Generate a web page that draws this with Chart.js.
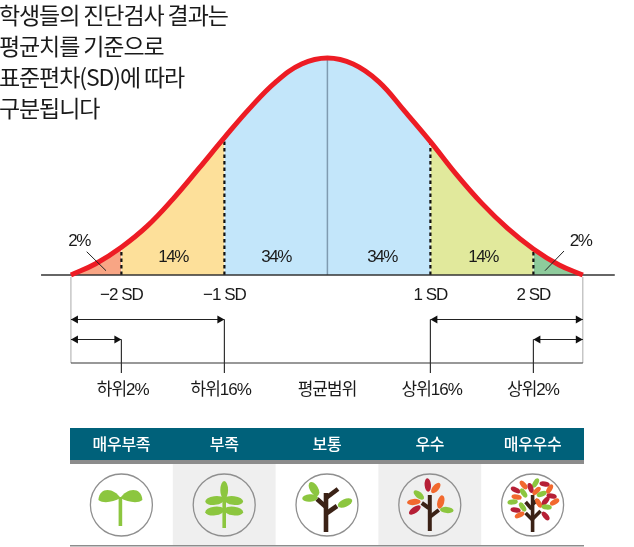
<!DOCTYPE html>
<html>
<head>
<meta charset="utf-8">
<style>
  html, body { margin: 0; padding: 0; background: #fff; }
  canvas { display: block; }
</style>
<script src="https://cdn.jsdelivr.net/npm/chart.js@4/dist/chart.umd.js"></script>
</head>
<body>
<canvas id="myChart" width="634" height="547"></canvas>
<script>
// curve: position in SD, height as % of the peak
const curveSd = [-2.49, -2.25, -2, -1.75, -1.5, -1.25, -1, -0.75, -0.5, -0.25, 0, 0.25, 0.5, 0.75, 1, 1.25, 1.5, 1.75, 2, 2.25, 2.48];
const curveHeight = [0, 5.2, 12.8, 22.5, 35, 49, 63.3, 77, 89, 97.2, 100, 97.2, 89, 75.5, 61.5, 46.5, 33, 21.5, 12, 4.6, 0];

const titleLines = ['학생들의 진단검사 결과는', '평균치를 기준으로', '표준편차(SD)에 따라', '구분됩니다'];
const tickValues = [-2, -1, 1, 2];
const tickLabels = ['−2 SD', '−1 SD', '1 SD', '2 SD'];
const bandEdges = [-2.49, -2, -1, 0, 1, 2, 2.48];
const bandColors = ['#f8a584', '#fde09a', '#c3e6fa', '#c3e6fa', '#e1e99c', '#8ecb9c'];
const bandShares = ['2%', '14%', '34%', '34%', '14%', '2%'];
const rankLabels = ['하위2%', '하위16%', '평균범위', '상위16%', '상위2%'];
const gradeLabels = ['매우부족', '부족', '보통', '우수', '매우우수'];

const KR = '"Noto Sans CJK KR", "Noto Sans", sans-serif';
const MIXED = '"Liberation Sans", "Noto Sans CJK KR", sans-serif';
const INK = '#1a1a1a';
const TEAL = '#00617a';
const GREEN = '#8cc63f', BROWN = '#3b2216', ORANGE = '#f2692e', RED = '#b61f36';

// split the curve into one filled piece per band
const bandDatasets = bandColors.map((color, i) => ({
  data: curveSd.map((x, k) => ({ x: x, y: curveHeight[k] }))
    .filter(p => p.x >= bandEdges[i] && p.x <= bandEdges[i + 1]),
  backgroundColor: color,
  borderWidth: 0,
  fill: 'origin',
  tension: 0.4,
  order: 5
}));

// dashed drops from the curve to the axis
const dropDatasets = tickValues.map(v => ({
  data: [{ x: v, y: 0 }, { x: v, y: curveHeight[curveSd.indexOf(v)] }],
  borderColor: '#111',
  borderWidth: 2.2,
  borderDash: [3.5, 3],
  fill: false,
  order: 3
}));

const SD_PX = 103, MEAN_PX = 327.4, BASE_PX = 275, PCT_PX = 2.17;

function ellipse(ctx, x, y, rx, ry, deg, color) {
  ctx.beginPath();
  ctx.ellipse(x, y, rx, ry, deg * Math.PI / 180, 0, Math.PI * 2);
  ctx.fillStyle = color;
  ctx.fill();
}

function stroke(ctx, pts, color, width) {
  ctx.beginPath();
  pts.forEach((p, i) => i ? ctx.lineTo(p[0], p[1]) : ctx.moveTo(p[0], p[1]));
  ctx.strokeStyle = color;
  ctx.lineWidth = width;
  ctx.stroke();
}

function text(ctx, str, x, y, font, color, align, spacing) {
  ctx.font = font;
  ctx.fillStyle = color;
  ctx.textAlign = align || 'center';
  ctx.textBaseline = 'middle';
  ctx.letterSpacing = spacing || '0px';
  ctx.fillText(str, x, y);
}

function arrowHead(ctx, x, y, dir) {
  ctx.beginPath();
  ctx.moveTo(x, y);
  ctx.lineTo(x - dir * 7, y - 4);
  ctx.lineTo(x - dir * 7, y + 4);
  ctx.closePath();
  ctx.fillStyle = '#111';
  ctx.fill();
}

function bracket(ctx, x1, x2, y) {
  stroke(ctx, [[x1, y], [x2, y]], '#222', 1.2);
  arrowHead(ctx, x1, y, -1);
  arrowHead(ctx, x2, y, 1);
}

function trunk(ctx, cx, cy, parts, width) {
  ctx.lineCap = 'butt';
  parts.forEach(p => stroke(ctx, [[cx + p[0], cy + p[1]], [cx + p[2], cy + p[3]]], BROWN, width));
}

function seedLeaf(ctx, x, y, dir) {
  ctx.beginPath();
  ctx.moveTo(x, y - 7);
  ctx.bezierCurveTo(x + dir * 6, y - 17, x + dir * 21, y - 19, x + dir * 22, y - 5);
  ctx.bezierCurveTo(x + dir * 17, y - 1, x + dir * 7, y - 3, x, y - 7);
  ctx.fillStyle = GREEN;
  ctx.fill();
}

const icons = [
  (ctx, x, y) => {
    stroke(ctx, [[x - 1, y - 8], [x - 1, y + 21]], GREEN, 3.6);
    seedLeaf(ctx, x - 1, y, -1);
    seedLeaf(ctx, x - 1, y, 1);
  },
  (ctx, x, y) => {
    stroke(ctx, [[x, y - 12], [x, y + 23]], GREEN, 3.6);
    ellipse(ctx, x, y - 15, 3.9, 9, 0, GREEN);
    ellipse(ctx, x - 9.5, y - 4.5, 9.5, 4.4, -8, GREEN);
    ellipse(ctx, x + 9.5, y - 4.5, 9.5, 4.4, 8, GREEN);
    ellipse(ctx, x - 9.5, y + 6, 9.5, 4.4, -8, GREEN);
    ellipse(ctx, x + 9.5, y + 6, 9.5, 4.4, 8, GREEN);
  },
  (ctx, x, y) => {
    trunk(ctx, x, y, [[-1, 27, -1, -12], [-1, 2, -10, -6], [-1, -7, 11, -16], [0, 8, 10, 1]], 4.6);
    ellipse(ctx, x - 13, y - 16, 7.8, 4.2, 60, GREEN);
    ellipse(ctx, x - 17, y - 7, 7.8, 3.7, -5, GREEN);
    ellipse(ctx, x + 18, y - 2, 7.8, 3.9, -25, GREEN);
  },
  (ctx, x, y) => {
    trunk(ctx, x, y, [[0, 26, 0, -10], [-1, 3, -8, -2], [0, 12, 9, 5]], 4);
    ellipse(ctx, x - 2, y - 20, 3.2, 6.8, -5, RED);
    ellipse(ctx, x + 6, y - 17, 6.3, 3.2, -50, ORANGE);
    ellipse(ctx, x - 11, y - 10, 6.3, 3.2, 40, GREEN);
    ellipse(ctx, x - 16, y - 3, 6.8, 3.1, -5, ORANGE);
    ellipse(ctx, x - 15, y + 5, 6.8, 3.2, -35, RED);
    ellipse(ctx, x + 11, y - 3, 3.4, 6.8, 15, ORANGE);
    ellipse(ctx, x + 17, y + 5, 6.8, 3.1, 5, GREEN);
  },
  (ctx, x, y) => {
    trunk(ctx, x, y, [[0, 27, 0, -10], [-1, 4, -7, -3], [0, -1, 5, -5], [0, 15, -7, 8], [0, 14, 8, 6]], 3.6);
    [[-9, -20, 50, ORANGE], [3, -22, -60, GREEN], [12, -21, 10, RED], [-17, -15, 25, RED],
     [-9, -12, 55, GREEN], [-2, -17, 70, RED], [4, -14, -45, ORANGE], [17, -16, -60, ORANGE],
     [-16, -8, 10, ORANGE], [9, -11, -20, GREEN], [19, -9, 8, RED], [-20, -3, -5, GREEN],
     [6, -2, 60, ORANGE], [13, -4, -50, RED], [22, -3, -30, ORANGE], [-17, 5, 10, RED],
     [-10, 2, 55, GREEN], [14, 2, 5, GREEN], [-13, 10, -25, ORANGE], [13, 11, 50, RED]
    ].forEach(l => ellipse(ctx, x + l[0], y + l[1], 5.2, 2.6, l[2], l[3]));
  }
];

// everything that is not a data mark: title, brackets, table with the icons
const decorations = {
  id: 'decorations',
  beforeDraw(chart) {
    chart.ctx.letterSpacing = '-1px';
  },
  afterDatasetsDraw(chart) {
    const ctx = chart.ctx;
    const xs = chart.scales.x;
    ctx.save();

    titleLines.forEach((line, i) => {
      text(ctx, line, -1, 15 + i * 31, '400 23px ' + KR, INK, 'left', '-1.1px');
    });

    // share labels inside the bands
    const shareX = [79, 173, 276, 382, 483, 580.5];
    const shareY = [241, 257, 257, 257, 257, 241];
    bandShares.forEach((share, i) => {
      text(ctx, share, shareX[i], shareY[i], '17px ' + MIXED, INK, 'center', '-1.5px');
    });
    stroke(ctx, [[86.7, 251.7], [106, 270.7]], '#222', 1);
    stroke(ctx, [[564, 251], [545, 270.7]], '#222', 1);

    // frame under the axis
    const left = xs.getPixelForValue(curveSd[0]);
    const right = xs.getPixelForValue(curveSd[curveSd.length - 1]);
    stroke(ctx, [[left, 277], [left, 363]], '#aaa', 1);
    stroke(ctx, [[right, 277], [right, 363]], '#aaa', 1);
    stroke(ctx, [[left, 363], [right, 363]], '#333', 1.2);

    const lo2 = xs.getPixelForValue(-2), lo1 = xs.getPixelForValue(-1);
    const hi1 = xs.getPixelForValue(1), hi2 = xs.getPixelForValue(2);
    bracket(ctx, left, lo1, 319.5);
    bracket(ctx, left, lo2, 339.5);
    bracket(ctx, hi1, right, 319.5);
    bracket(ctx, hi2, right, 339.5);
    stroke(ctx, [[lo1, 319.5], [lo1, 373]], '#333', 1.2);
    stroke(ctx, [[lo2, 339.5], [lo2, 373]], '#333', 1.2);
    stroke(ctx, [[hi1, 319.5], [hi1, 373]], '#333', 1.2);
    stroke(ctx, [[hi2, 339.5], [hi2, 373]], '#333', 1.2);

    [122.7, 220.7, 327, 431.7, 533].forEach((x, i) => {
      text(ctx, rankLabels[i], x, 390, '17px ' + MIXED, INK, 'center', '-1px');
    });

    // table
    const colW = (584 - 70) / gradeLabels.length;
    ctx.fillStyle = TEAL;
    ctx.fillRect(70, 428, 514, 32);
    ctx.fillStyle = '#8c8c8c';
    ctx.fillRect(70, 460, 514, 4);
    ctx.fillStyle = '#efefef';
    ctx.fillRect(70 + colW, 464, colW, 81);
    ctx.fillRect(70 + colW * 3, 464, colW, 81);
    ctx.fillStyle = '#8c8c8c';
    ctx.fillRect(70, 545, 514, 1.5);

    gradeLabels.forEach((label, i) => {
      const cx = 70 + colW * (i + 0.5);
      text(ctx, label, cx, 444, '500 16px ' + KR, '#fff', 'center', '-0.3px');
      ctx.beginPath();
      ctx.arc(cx, 505, 31, 0, Math.PI * 2);
      ctx.strokeStyle = '#8f8f8f';
      ctx.lineWidth = 1.3;
      ctx.stroke();
      icons[i](ctx, cx, 505);
    });

    ctx.restore();
  }
};

new Chart('myChart', {
  type: 'line',
  data: {
    datasets: [
      {
        // the bell curve
        data: curveSd.map((x, i) => ({ x: x, y: curveHeight[i] })),
        borderColor: '#ed1c24',
        borderWidth: 5,
        tension: 0.4,
        fill: false,
        order: 1
      },
      ...dropDatasets,
      {
        // mean line
        data: [{ x: 0, y: 0 }, { x: 0, y: 100 }],
        borderColor: '#7f9bb0',
        borderWidth: 1.5,
        fill: false,
        order: 4
      },
      {
        // axis baseline, runs past the curve on both sides
        data: [{ x: -2.78, y: 0 }, { x: 2.79, y: 0 }],
        borderColor: '#333',
        borderWidth: 1.3,
        fill: false,
        order: 2
      },
      ...bandDatasets
    ]
  },
  options: {
    responsive: false,
    animation: false,
    events: [],
    layout: { padding: 0 },
    elements: { point: { radius: 0 } },
    plugins: { legend: { display: false }, tooltip: { enabled: false } },
    scales: {
      x: {
        type: 'linear',
        position: { y: 0 },
        min: -MEAN_PX / SD_PX,
        max: (634 - MEAN_PX) / SD_PX,
        afterBuildTicks: axis => { axis.ticks = tickValues.map(v => ({ value: v })); },
        grid: { display: false, drawTicks: false },
        border: { display: false },
        ticks: {
          autoSkip: false,
          maxRotation: 0,
          padding: 10,
          color: INK,
          font: { family: '"Liberation Sans", sans-serif', size: 17 },
          callback: v => tickLabels[tickValues.indexOf(v)]
        }
      },
      y: {
        type: 'linear',
        display: false,
        min: -(547 - BASE_PX) / PCT_PX,
        max: BASE_PX / PCT_PX
      }
    }
  },
  plugins: [decorations]
});
</script>
</body>
</html>
